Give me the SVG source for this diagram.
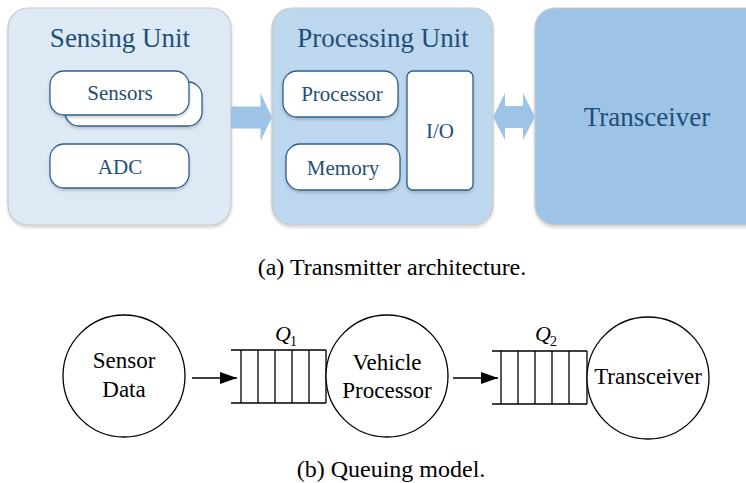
<svg xmlns="http://www.w3.org/2000/svg" width="746" height="483" viewBox="0 0 746 483">
<defs>
<filter id="sh" x="-10%" y="-10%" width="120%" height="130%">
<feDropShadow dx="0" dy="2" stdDeviation="1.5" flood-color="#000" flood-opacity="0.18"/>
</filter>
<marker id="ah" markerWidth="17" markerHeight="12" refX="17" refY="6" orient="auto" markerUnits="userSpaceOnUse">
<path d="M0,0 L17,6 L0,12 Z" fill="#000"/>
</marker>
<style>
text{font-family:'Liberation Serif','Times New Roman',serif}
.unit{stroke:#c9c9c9;stroke-width:1.2;filter:url(#sh)}
.inner{fill:#fff;stroke:#2f5f8f;stroke-width:1.3;filter:url(#sh)}
.t{fill:#1f4e79;text-anchor:middle}
.big{font-size:27px}
.mid{font-size:21px}
.bk{fill:#000;text-anchor:middle;font-size:23px}
.cap{fill:#000;text-anchor:middle;font-size:24px}
.q{fill:none;stroke:#000;stroke-width:1.3}
.blk{fill:#9dc3e6}
</style>
</defs>

<g id="sensing-unit">
<rect class="unit" x="8" y="8" width="223" height="217" rx="20" fill="#dde9f5"/>
<text class="t big" x="120" y="47">Sensing Unit</text>
</g>
<g id="sensors">
<rect class="inner" x="65" y="82" width="137" height="44" rx="14"/>
<rect class="inner" x="50" y="71" width="139" height="44" rx="14"/>
<text class="t mid" x="120" y="100">Sensors</text>
</g>
<g id="adc">
<rect class="inner" x="50" y="144" width="139" height="44" rx="14"/>
<text class="t mid" x="120" y="174">ADC</text>
</g>

<g id="processing-unit">
<rect class="unit" x="272" y="8" width="221" height="217" rx="20" fill="#bdd7ee"/>
<text class="t big" x="383" y="47">Processing Unit</text>
</g>
<g id="processor">
<rect class="inner" x="283" y="71" width="115" height="46" rx="14"/>
<text class="t mid" x="342" y="101">Processor</text>
</g>
<g id="memory">
<rect class="inner" x="286" y="144" width="114" height="46" rx="14"/>
<text class="t mid" x="343" y="175">Memory</text>
</g>
<g id="io">
<rect class="inner" x="407" y="71" width="66" height="119" rx="6"/>
<text class="t mid" x="440" y="138">I/O</text>
</g>

<g id="transceiver-unit">
<rect class="unit" x="535" y="8" width="240" height="217" rx="20" fill="#9dc3e6"/>
<text class="t big" x="647" y="126">Transceiver</text>
</g>

<g id="connectors">
<path class="blk" d="M231,106.5 L260.5,106.5 L260.5,93 L272,117.5 L260.5,141 L260.5,128.5 L231,128.5 Z"/>
<path class="blk" d="M493,117 L505,93 L505,106 L523,106 L523,93 L535,117 L523,140 L523,128 L505,128 L505,140 Z"/>
<line x1="192" y1="378" x2="237" y2="378" stroke="#000" stroke-width="1.5" marker-end="url(#ah)"/>
<line x1="453" y1="378" x2="498" y2="378" stroke="#000" stroke-width="1.5" marker-end="url(#ah)"/>
</g>

<g id="sensor-data">
<circle cx="124" cy="376" r="61" fill="#fff" stroke="#000" stroke-width="1.3"/>
<text class="bk" x="124" y="368">Sensor</text>
<text class="bk" x="124" y="397">Data</text>
</g>

<g id="q1">
<path class="q" d="M231,350 H326 M231,403 H326 M241,350 V403 M258,350 V403 M275,350 V403 M292,350 V403 M309,350 V403 M326,350 V403"/>
<text x="275" y="341" font-style="italic" font-size="22">Q</text>
<text x="290" y="346" font-size="14">1</text>
</g>

<g id="vehicle-processor">
<circle cx="387" cy="376" r="61" fill="#fff" stroke="#000" stroke-width="1.3"/>
<text class="bk" x="387" y="370">Vehicle</text>
<text class="bk" x="387" y="398">Processor</text>
</g>

<g id="q2">
<path class="q" d="M492,351 H587 M492,404 H587 M501,351 V404 M518,351 V404 M535,351 V404 M552,351 V404 M569,351 V404 M587,351 V404"/>
<text x="535" y="341" font-style="italic" font-size="22">Q</text>
<text x="550" y="346" font-size="14">2</text>
</g>

<g id="transceiver">
<circle cx="648" cy="378" r="61" fill="#fff" stroke="#000" stroke-width="1.3"/>
<text class="bk" x="648" y="384">Transceiver</text>
</g>

<text class="cap" x="392" y="275">(a) Transmitter architecture.</text>
<text class="cap" x="391" y="477" font-size="25">(b) Queuing model.</text>
</svg>
